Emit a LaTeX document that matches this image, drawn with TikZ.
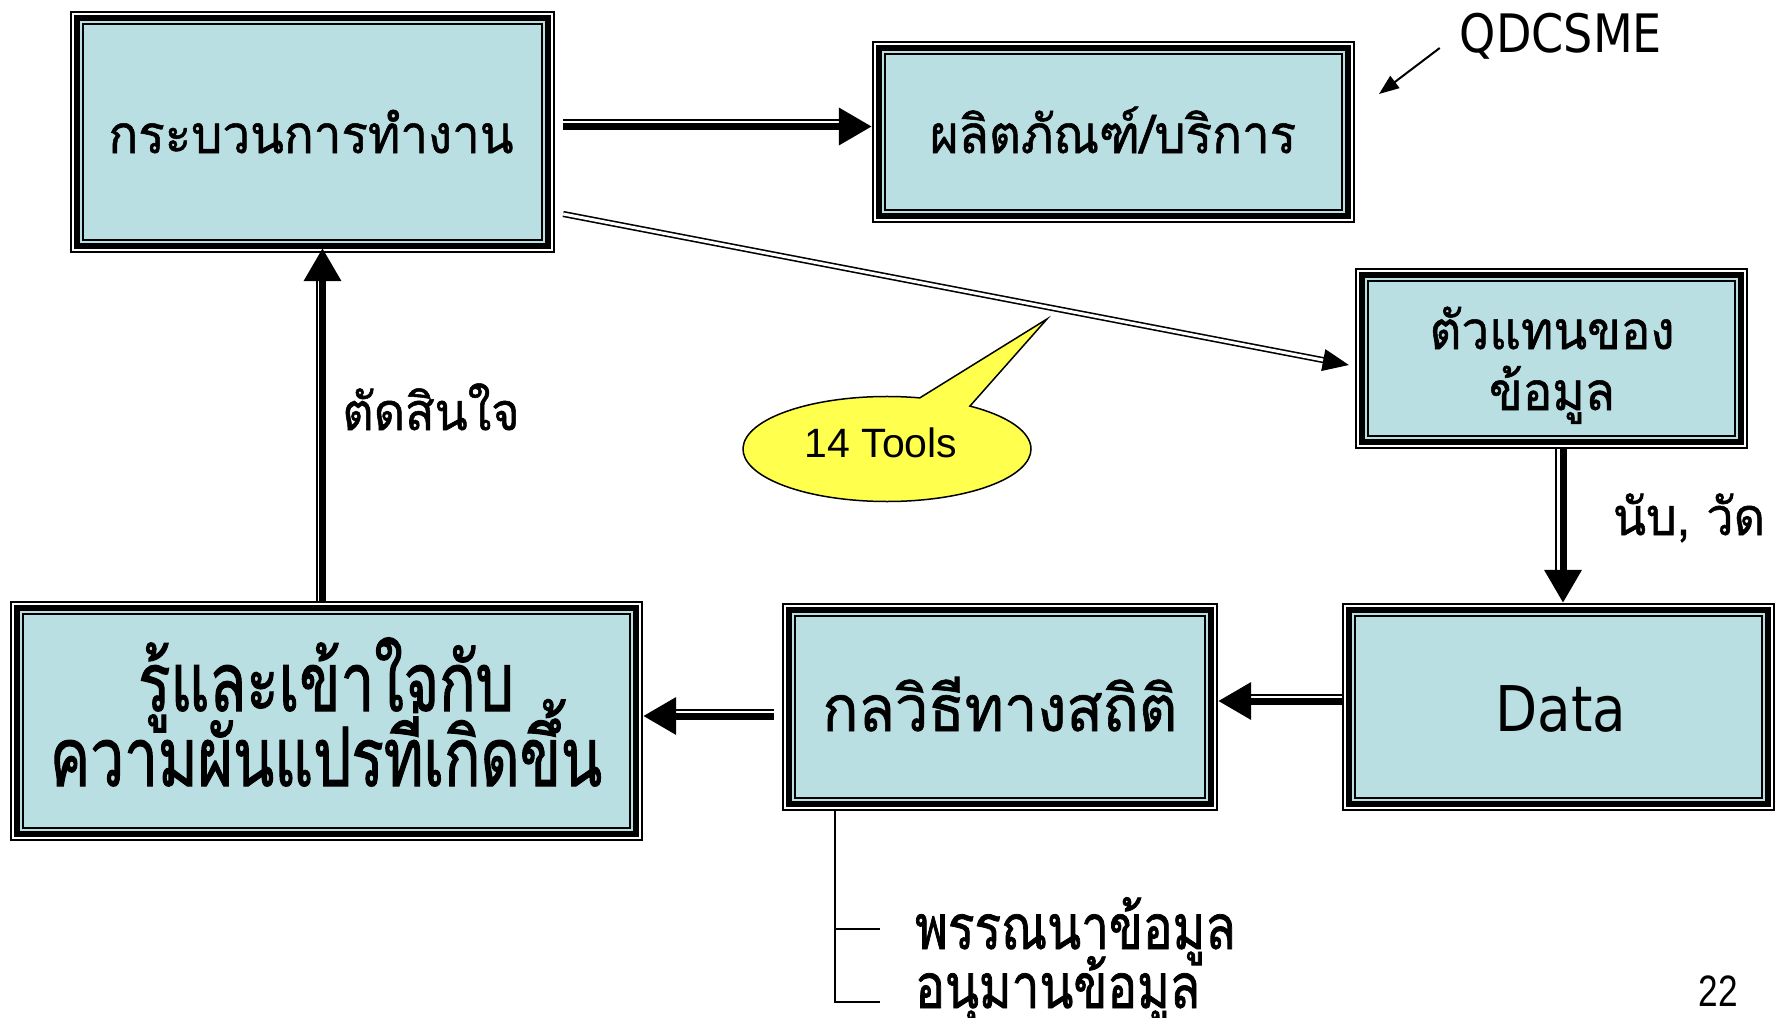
\documentclass[tikz,border=0pt]{standalone}
\usepackage{fontspec}
\usetikzlibrary{arrows.meta,calc,shapes.callouts}
\newfontfamily\thai[Script=Thai,FakeBold=1,FakeStretch=0.93]{Loma}
\newfontfamily\thaic[Script=Thai,FakeStretch=0.735,FakeBold=1.2]{Loma}
\newfontfamily\thaib[Script=Thai,FakeStretch=0.8,FakeBold=1.2]{Loma}
\newfontfamily\tah[FakeStretch=0.87]{DejaVu Sans}
\newfontfamily\ari{Liberation Sans}
\newfontfamily\nar[FakeStretch=0.8]{Liberation Sans}
\definecolor{boxfill}{RGB}{185,223,227}
\definecolor{callfill}{RGB}{255,255,77}
\newcommand\myfs[1]{\fontsize{#1pt}{#1pt}\selectfont}
\begin{document}
\begin{tikzpicture}[x=1pt,y=-1pt,line join=miter,
  tribox/.style={rectangle,inner sep=0pt,fill=boxfill,path picture={
    \draw[black,line width=2pt] ([shift={(1pt,-1pt)}]path picture bounding box.north west) rectangle ([shift={(-1pt,1pt)}]path picture bounding box.south east);
    \draw[white,line width=2pt] ([shift={(3pt,-3pt)}]path picture bounding box.north west) rectangle ([shift={(-3pt,3pt)}]path picture bounding box.south east);
    \draw[black,line width=6pt] ([shift={(7pt,-7pt)}]path picture bounding box.north west) rectangle ([shift={(-7pt,7pt)}]path picture bounding box.south east);
    \draw[black,line width=2pt] ([shift={(13pt,-13pt)}]path picture bounding box.north west) rectangle ([shift={(-13pt,13pt)}]path picture bounding box.south east);
  }},
  lbl/.style={inner sep=0pt,anchor=base},
  thk/.style={line width=7pt},
  thn/.style={line width=2pt},
  bighead/.style={-{Triangle[length=33pt,width=36pt]}}
]
\useasboundingbox (0,0) rectangle (1776,1017);
\fill[white] (0,0) rectangle (1776,1017);

% boxes
\node[tribox,minimum width=485pt,minimum height=242pt] (A) at (312.5,132) {};
\node[tribox,minimum width=483pt,minimum height=182pt] (B) at (1113.5,132) {};
\node[tribox,minimum width=393pt,minimum height=181pt] (C) at (1551.5,358.5) {};
\node[tribox,minimum width=433pt,minimum height=208pt] (D) at (1558.5,707) {};
\node[tribox,minimum width=436pt,minimum height=208pt] (E) at (1000,707) {};
\node[tribox,minimum width=633pt,minimum height=240pt] (F) at (326.5,721) {};

% box labels
\node[lbl] (At) at (311,153) {\thai\myfs{53}กระบวนการทำงาน};
\node[lbl] (Bt) at (1113,153) {\thai\myfs{53}ผลิตภัณฑ์/บริการ};
\node[lbl] (Ct1) at (1552,349) {\thai\myfs{53}ตัวแทนของ};
\node[lbl] (Ct2) at (1552,410) {\thai\myfs{53}ข้อมูล};
\node[lbl] (Dt) at (1561,731) {\tah\myfs{63}Data};
\node[lbl] (Et) at (1000,731) {\thai\myfs{64}กลวิธีทางสถิติ};
\node[lbl] (Ft1) at (326,711) {\thaic\myfs{82}รู้และเข้าใจกับ};
\node[lbl] (Ft2) at (326,786) {\thaic\myfs{82}ความผันแปรที่เกิดขึ้น};

% free labels
\node[lbl] (dec) at (431,430) {\thai\myfs{52}ตัดสินใจ};
\node[lbl] (cnt) at (1689,535) {\thai\myfs{52}นับ, วัด};
\node[lbl] (q) at (1561,52) {\tah\myfs{53}QDCSME};
\node[lbl] (pg) at (1718,1006) {\nar\myfs{44}22};
\node[lbl,anchor=base west] (L1) at (915,949) {\thaib\myfs{62}พรรณนาข้อมูล};
\node[lbl,anchor=base west] (L2) at (915,1008) {\thaib\myfs{62}อนุมานข้อมูล};

% callout
\node[ellipse callout,draw,line width=1.5pt,fill=callfill,minimum width=288pt,minimum height=105pt,
  callout absolute pointer={(1047,319)},callout pointer arc=22] (tools) at (887,449) {};
\node[lbl] (tt) at (881,457) {\ari\myfs{41}14 Tools};

% helper levels
\coordinate (yAB) at (0,126.5);
\coordinate (yABt) at (0,119.5);
\coordinate (yDE) at (0,701);
\coordinate (yDEt) at (0,694.5);
\coordinate (yEF) at (0,716);
\coordinate (yEFt) at (0,709.5);
\coordinate (xCD) at (1563,0);
\coordinate (xCDt) at (1556,0);
\coordinate (xFA) at (322.5,0);
\coordinate (xFAt) at (316.5,0);

% A -> B
\draw[thk,bighead] ($(A.east|-yAB)+(8,0)$) -- (B.west|-yAB);
\draw[thn] ($(A.east|-yABt)+(8,0)$) -- ($(B.west|-yABt)+(-33,0)$);

% A -> C (double thin)
\coordinate (acs) at ($(A.east)+(8,82)$);
\coordinate (ace) at ($(C.west)+(-6,6.5)$);
\draw[line width=1.6pt,double distance=3pt,shorten >=22pt] (acs) -- (ace);
\draw[line width=1pt,-{Triangle[length=26pt,width=22pt]}] ($(ace)!24pt!(acs)$) -- (ace);

% C -> D
\draw[thk,bighead] (C.south-|xCD) -- (D.north-|xCD);
\draw[thn] (C.south-|xCDt) -- ($(D.north-|xCDt)+(0,-33)$);

% D -> E
\draw[thk,bighead] (D.west|-yDE) -- (E.east|-yDE);
\draw[thn] (D.west|-yDEt) -- ($(E.east|-yDEt)+(33,0)$);

% E -> F
\draw[thk,bighead] ($(E.west|-yEF)+(-8,0)$) -- (F.east|-yEF);
\draw[thn] ($(E.west|-yEFt)+(-8,0)$) -- ($(F.east|-yEFt)+(33,0)$);

% F -> A
\draw[thk,bighead] (F.north-|xFA) -- ($(A.south-|xFA)+(0,-5)$);
\draw[thn] (F.north-|xFAt) -- ($(A.south-|xFAt)+(0,28)$);

% QDCSME pointer
\coordinate (qtip) at (1379,94);
\draw[line width=2pt,-{Triangle[length=20pt,width=15pt]}] ($(q.base west)+(-20,-4)$) -- (qtip);

% bracket under E
\coordinate (br) at ($(E.south west)+(53,0)$);
\draw[line width=1.5pt] (br) -- ($(br|-L2.base)+(0,-6)$) -- ($(L2.base west)+(-35,-6)$);
\draw[line width=1.5pt] ($(br|-L1.base)+(0,-20)$) -- ($(L1.base west)+(-35,-20)$);
\end{tikzpicture}
\end{document}
